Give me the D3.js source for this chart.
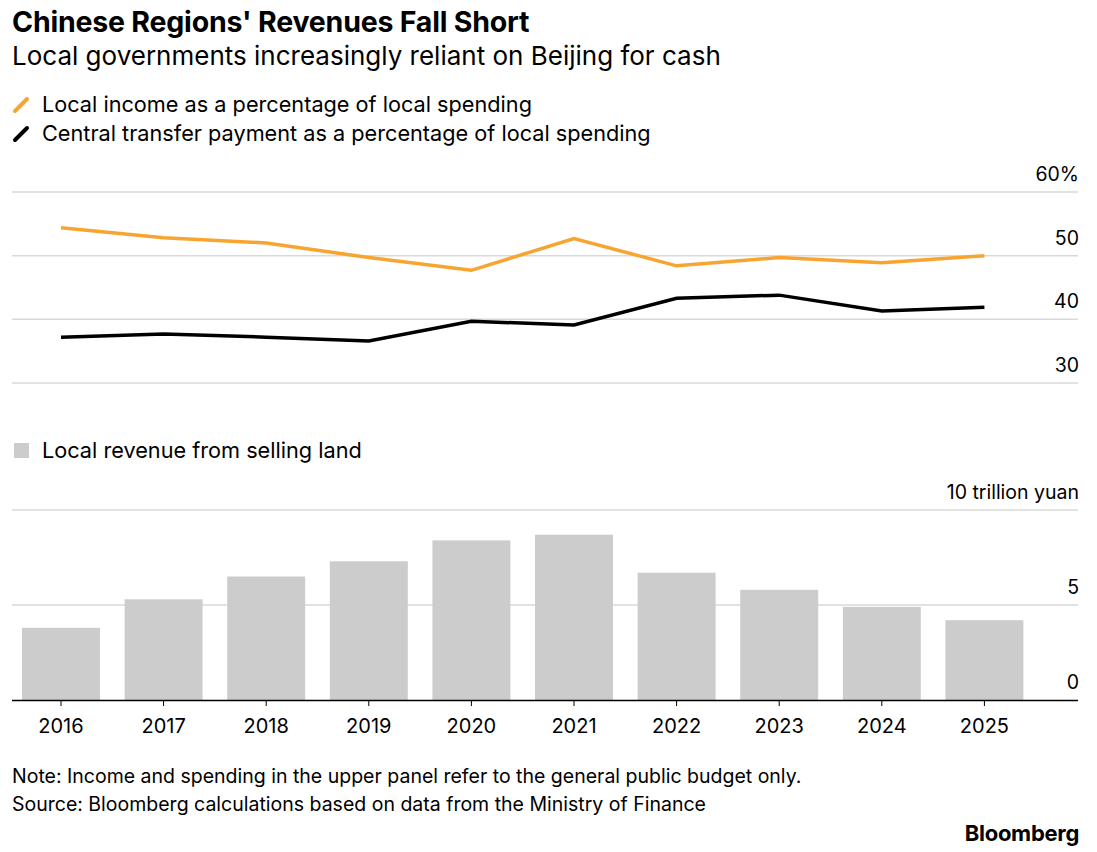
<!DOCTYPE html>
<html><head><meta charset="utf-8">
<script src="https://cdn.jsdelivr.net/npm/d3@7"></script>
<style>body{margin:0;background:#fff;font-family:"Inter","Liberation Sans",sans-serif}</style>
</head><body><svg width="1097" height="852"></svg>
<script>
const years = ['2016','2017','2018','2019','2020','2021','2022','2023','2024','2025'];
const localIncome = [54.4, 52.8, 52.0, 49.7, 47.7, 52.7, 48.4, 49.7, 48.9, 50.0];
const centralTransfer = [37.2, 37.7, 37.2, 36.6, 39.7, 39.1, 43.3, 43.8, 41.3, 41.9];
const landRevenue = [3.8, 5.3, 6.5, 7.3, 8.4, 8.7, 6.7, 5.8, 4.9, 4.2];
const topTicks = [30, 40, 50, 60];
const bottomTicks = [0, 5, 10];

const svg = d3.select('svg');
const txt = (x, y, s, size, weight, anchor) => svg.append('text').attr('x', x).attr('y', y)
    .attr('font-size', size).attr('font-weight', weight || 400).attr('text-anchor', anchor || 'start')
    .attr('fill', '#000').text(s);

txt(12, 32, "Chinese Regions' Revenues Fall Short", 28.5, 700).attr('letter-spacing', -0.2);
txt(12, 65, 'Local governments increasingly reliant on Beijing for cash', 26, 400);

// legend
const legend = [['#f7a530', 'Local income as a percentage of local spending', 112], ['#000', 'Central transfer payment as a percentage of local spending', 141]];
legend.forEach(l => {
    svg.append('line').attr('x1', 15).attr('x2', 27).attr('y1', l[2] - 1).attr('y2', l[2] - 13)
        .attr('stroke', l[0]).attr('stroke-width', 4).attr('stroke-linecap', 'round');
    txt(42, l[2], l[1], 21.7);
});

const x = d3.scaleBand().domain(years).range([22, 1023.4]).paddingInner(0.24).paddingOuter(0);
const cx = d => x(d) + x.bandwidth() / 2;

// top panel
const yT = d3.scaleLinear().domain([30, 60]).range([383, 192]);
topTicks.forEach(t => {
    svg.append('line').attr('x1', 12).attr('x2', 1078).attr('y1', yT(t)).attr('y2', yT(t)).attr('stroke', '#d9d9d9').attr('stroke-width', 1.5);
    txt(1079, yT(t) - 11, t === 60 ? '60%' : t, 19.5, 400, 'end');
});
const line = d3.line().x((d, i) => cx(years[i])).y(d => yT(d));
svg.append('path').datum(localIncome).attr('d', line).attr('fill', 'none').attr('stroke', '#f7a530').attr('stroke-width', 3.5);
svg.append('path').datum(centralTransfer).attr('d', line).attr('fill', 'none').attr('stroke', '#000').attr('stroke-width', 3.5);

// bottom panel
svg.append('rect').attr('x', 14).attr('y', 443).attr('width', 15).attr('height', 15).attr('fill', '#cccccc');
txt(42, 458, 'Local revenue from selling land', 21.7);
const yB = d3.scaleLinear().domain([0, 10]).range([700, 510]);
bottomTicks.forEach(t => {
    if (t > 0) svg.append('line').attr('x1', 12).attr('x2', 1078).attr('y1', yB(t)).attr('y2', yB(t)).attr('stroke', '#d9d9d9').attr('stroke-width', 1.5);
    txt(1079, yB(t) - 11, t === 10 ? '10 trillion yuan' : t, 19.5, 400, 'end');
});
svg.append('g').selectAll('rect').data(landRevenue).join('rect')
    .attr('x', (d, i) => x(years[i])).attr('width', x.bandwidth())
    .attr('y', d => yB(d)).attr('height', d => yB(0) - yB(d)).attr('fill', '#cccccc');
svg.append('line').attr('x1', 12).attr('x2', 1078).attr('y1', 700.5).attr('y2', 700.5).attr('stroke', '#000').attr('stroke-width', 1.5);
years.forEach(yr => {
    svg.append('line').attr('x1', cx(yr)).attr('x2', cx(yr)).attr('y1', 700).attr('y2', 706).attr('stroke', '#000');
    txt(cx(yr), 733, yr, 20, 400, 'middle');
});

txt(12, 783, 'Note: Income and spending in the upper panel refer to the general public budget only.', 19.5);
txt(12, 811, 'Source: Bloomberg calculations based on data from the Ministry of Finance', 19.5);
txt(1079, 841, 'Bloomberg', 22, 700, 'end').attr('letter-spacing', -0.3);
</script></body></html>
